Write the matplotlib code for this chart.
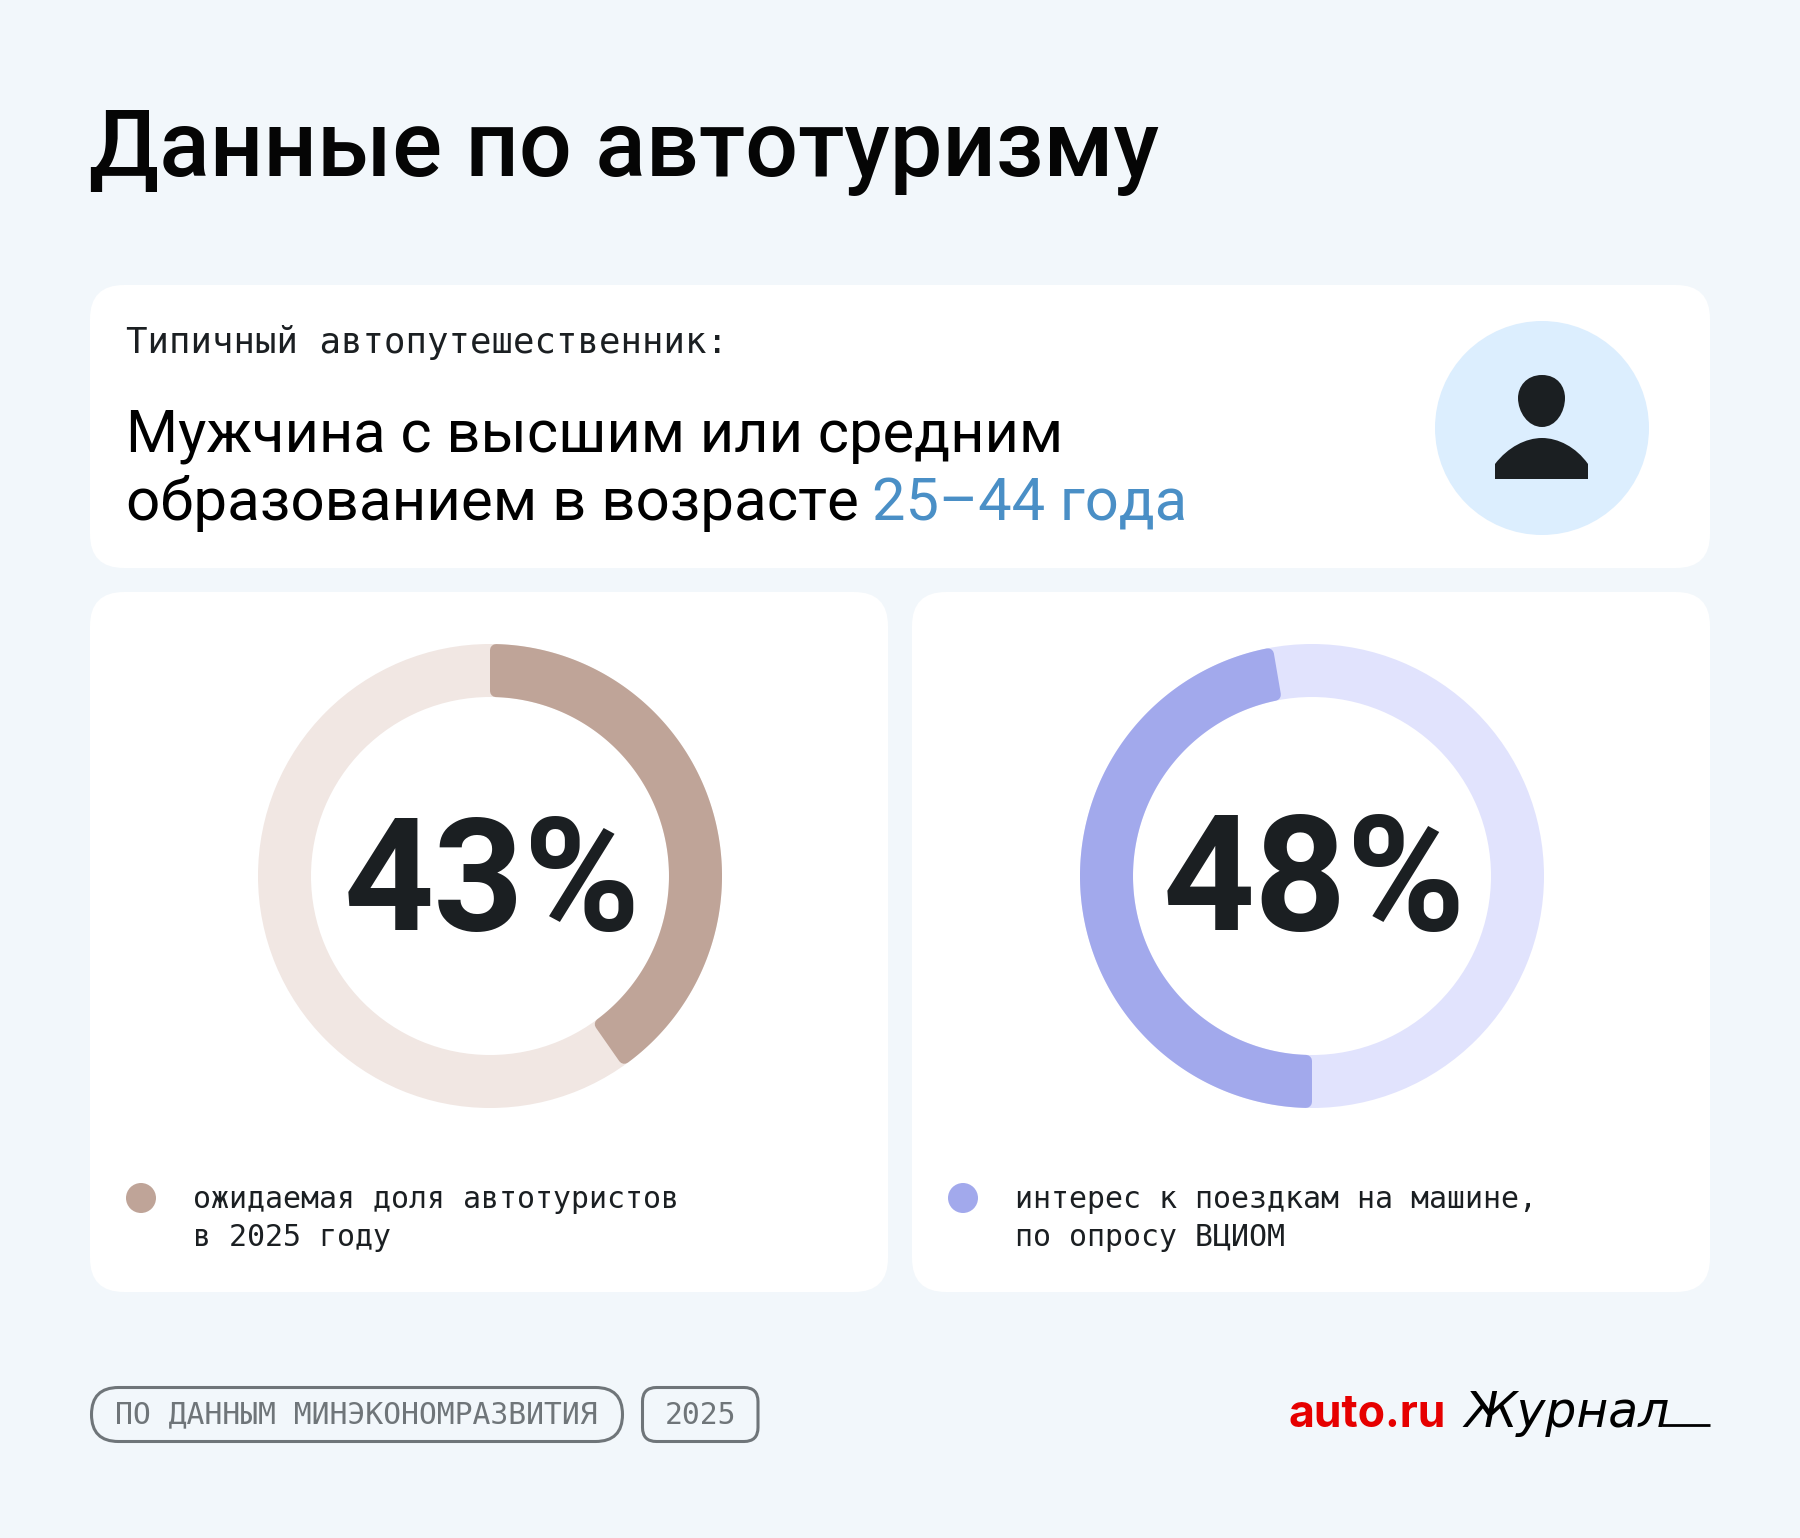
import matplotlib
matplotlib.use("Agg")
import matplotlib.pyplot as plt
from matplotlib.patches import FancyBboxPatch, Circle, PathPatch, Polygon
from matplotlib.path import Path
import numpy as np

W, H = 1800, 1538
BG = "#F2F7FB"
INK = "#1B1F22"
GREY = "#6F7579"
SANS = ["Roboto", "DejaVu Sans"]
MONO = ["DejaVu Sans Mono"]

title = "Данные по автотуризму"
kicker = "Типичный автопутешественник:"
headline_1 = "Мужчина с высшим или средним"
headline_2 = "образованием в возрасте"
headline_accent = "25–44 года"

# printed numbers, and the share of the ring the coloured arc actually covers
labels = ["43%", "48%"]
arc_share = [40.3, 47.3]
arc_start = [90, 270]
arc_dark = ["#BFA498", "#A2A9EC"]
arc_pale = ["#F1E7E3", "#E1E3FD"]
notes = [["ожидаемая доля автотуристов", "в 2025 году"],
         ["интерес к поездкам на машине,", "по опросу ВЦИОМ"]]
source = "ПО ДАННЫМ МИНЭКОНОМРАЗВИТИЯ"
year = "2025"

fig = plt.figure(figsize=(W / 100, H / 100), dpi=100, facecolor=BG)
ax = fig.add_axes([0, 0, 1, 1])
ax.set_xlim(0, W)
ax.set_ylim(H, 0)
ax.axis("off")


def box(x0, y0, x1, y1, r, fc="white", ec="none", lw=0):
    ax.add_patch(FancyBboxPatch((x0, y0), x1 - x0, y1 - y0,
                                boxstyle=f"round,pad=0,rounding_size={r}",
                                fc=fc, ec=ec, lw=lw))


def fit(t, width):
    # scale font size so the string is as wide as in the reference
    r = fig.canvas.get_renderer()
    t.set_fontsize(t.get_fontsize() * width / t.get_window_extent(r).width)
    return t


box(90, 285, 1710, 568, 34)
box(90, 592, 888, 1292, 34)
box(912, 592, 1710, 1292, 34)

fit(ax.text(89, 176, title, family=SANS, weight=500, fontsize=70, color="#050505", va="baseline"), 1070)
ax.text(126, 343, kicker, family=MONO, fontsize=25.7, color=INK, va="center")
fit(ax.text(126, 451, headline_1, family=SANS, fontsize=50, color="black", va="baseline"), 938)
fit(ax.text(126, 520, headline_2, family=SANS, fontsize=50, color="black", va="baseline"), 733)
fit(ax.text(872, 520, headline_accent, family=SANS, fontsize=50, color="#4A8FC6", va="baseline"), 316)

# person icon
ax.add_patch(Circle((1542, 428), 107, fc="#DCEEFE", ec="none"))
head = Path([(1542, 375), (1526, 375), (1518, 387), (1518, 398),
             (1518, 412), (1528, 427), (1542, 427),
             (1556, 427), (1565, 412), (1565, 398),
             (1565, 387), (1558, 375), (1542, 375)],
            [Path.MOVETO] + [Path.CURVE4] * 12)
ax.add_patch(PathPatch(head, fc=INK, ec="none"))
body = Path([(1495, 479), (1495, 464), (1508, 447), (1526, 438), (1542, 438),
             (1558, 438), (1576, 447), (1588, 464), (1588, 479), (1495, 479)],
            [Path.MOVETO, Path.LINETO, Path.CURVE4, Path.CURVE4, Path.CURVE4,
             Path.CURVE4, Path.CURVE4, Path.CURVE4, Path.LINETO, Path.CLOSEPOLY])
ax.add_patch(PathPatch(body, fc=INK, ec="none"))

# donuts
cx = [490, 1312]
cy = 876
R = 232
ring = 53
corner = 6
text_x = [492.5, 1314.5]
text_w = [297, 303]
for i in range(2):
    d = fig.add_axes([(cx[i] - R) / W, 1 - (cy + R) / H, 2 * R / W, 2 * R / H])
    d.pie([100], colors=[arc_pale[i]], radius=1, wedgeprops={"width": ring / R})
    # arc pulled in by the corner radius, then stroked with a round join
    r_out = R - corner
    r_in = R - ring + corner
    t0 = np.radians(arc_start[i])
    t1 = t0 - 2 * np.pi * arc_share[i] / 100
    out = np.linspace(t0 - corner / r_out, t1 + corner / r_out, 200)
    inn = np.linspace(t1 + corner / r_in, t0 - corner / r_in, 200)
    xs = np.r_[r_out * np.cos(out), r_in * np.cos(inn)] / R
    ys = np.r_[r_out * np.sin(out), r_in * np.sin(inn)] / R
    d.add_patch(Polygon(np.c_[xs, ys], closed=True, fc=arc_dark[i], ec=arc_dark[i],
                        lw=2 * corner * 0.72, joinstyle="round", clip_on=False))
    d.set_xlim(-1, 1)
    d.set_ylim(-1, 1)
    d.set_aspect("equal")

    fit(ax.text(text_x[i], 930, labels[i], family=SANS, weight=700, fontsize=100, color=INK,
                ha="center", va="baseline", zorder=5), text_w[i])

dot_x = [141, 963]
note_x = [193, 1015]
for i in range(2):
    ax.add_patch(Circle((dot_x[i], 1198), 15, fc=arc_dark[i], ec="none"))
    for line, y in zip(notes[i], [1199, 1238]):
        ax.text(note_x[i], y, line, family=MONO, fontsize=21.5, color=INK, va="center")

# footer
box(91.5, 1387.5, 622.5, 1441.5, 27, fc="none", ec=GREY, lw=2.2)
box(642.5, 1387.5, 758, 1441.5, 14, fc="none", ec=GREY, lw=2.2)
ax.text(115, 1415, source, family=MONO, fontsize=21.4, color=GREY, va="center")
ax.text(665, 1415, year, family=MONO, fontsize=21.4, color=GREY, va="center")

fit(ax.text(1289, 1427, "auto.ru", family=["Inter"], weight=700, fontsize=40, color="#E60000", va="baseline"), 158)
fit(ax.text(1464, 1427, "Журнал", family="DejaVu Sans", style="italic", fontsize=30, color="black", va="baseline"), 205)
ax.plot([1662, 1710], [1425, 1425], color="black", lw=2, solid_capstyle="butt")

fig.savefig("out.png", dpi=100, facecolor=BG)
